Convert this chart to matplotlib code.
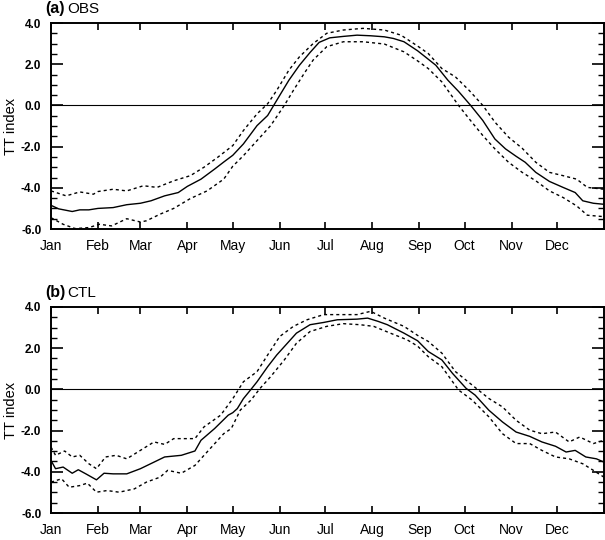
import matplotlib
matplotlib.use("Agg")
import matplotlib.pyplot as plt
from matplotlib.ticker import MultipleLocator

plt.rcParams["font.family"] = ["Liberation Sans", "DejaVu Sans"]

# ---- Data (day of year, TT index) ----
months = ["Jan", "Feb", "Mar", "Apr", "May", "Jun", "Jul", "Aug", "Sep", "Oct", "Nov", "Dec"]
month_start = [0, 31, 59, 90, 120, 151, 181, 212, 243, 273, 304, 334]

# (a) OBS
obs_mean_day = [0, 5, 14, 19, 25, 31, 41, 50, 59, 66, 75, 84, 90, 99, 108, 114, 120,
                127, 136, 143, 147, 151, 157, 164, 171, 177, 184, 193, 202, 211, 220,
                226, 233, 242, 247, 254, 262, 269, 277, 285, 293, 300, 307, 313, 320,
                329, 338, 346, 351, 358, 365]
obs_mean = [-4.85, -5.02, -5.15, -5.07, -5.07, -5.0, -4.96, -4.82, -4.75, -4.63, -4.39,
            -4.23, -3.93, -3.58, -3.09, -2.75, -2.42, -1.87, -0.98, -0.49, 0.0, 0.49,
            1.22, 1.95, 2.57, 3.06, 3.28, 3.35, 3.41, 3.38, 3.33, 3.25, 3.09, 2.65,
            2.36, 1.95, 1.22, 0.68, 0.0, -0.73, -1.63, -2.11, -2.47, -2.76, -3.25,
            -3.69, -3.98, -4.23, -4.63, -4.75, -4.8]

obs_hi_day = [0, 10, 19, 28, 31, 41, 50, 61, 70, 81, 92, 101, 110, 120, 127, 136, 143,
              149, 157, 164, 173, 182, 193, 206, 220, 231, 242, 249, 258, 267, 276,
              285, 293, 302, 311, 320, 329, 338, 347, 354, 365]
obs_hi = [-4.15, -4.39, -4.2, -4.31, -4.18, -4.07, -4.15, -3.9, -3.98, -3.66, -3.41,
          -3.0, -2.52, -1.95, -1.22, -0.41, 0.08, 0.73, 1.71, 2.36, 3.0, 3.5, 3.66,
          3.74, 3.66, 3.41, 2.88, 2.52, 1.79, 1.38, 0.73, 0.0, -0.81, -1.54, -2.08,
          -2.76, -3.25, -3.41, -3.58, -3.98, -4.07]

obs_lo_day = [0, 8, 16, 25, 32, 40, 50, 59, 63, 72, 81, 92, 103, 114, 120, 127, 136,
              145, 154, 160, 167, 173, 182, 193, 206, 220, 233, 242, 249, 258, 269,
              276, 285, 293, 302, 311, 320, 329, 338, 347, 354, 365]
obs_lo = [-5.45, -5.77, -5.98, -5.93, -5.77, -5.85, -5.5, -5.66, -5.6, -5.28, -5.0,
          -4.52, -4.15, -3.58, -2.95, -2.44, -1.71, -0.98, 0.0, 0.73, 1.54, 2.2, 2.85,
          3.09, 3.09, 2.98, 2.6, 2.16, 1.79, 1.14, 0.0, -0.65, -1.46, -2.11, -2.76,
          -3.25, -3.66, -4.15, -4.47, -4.88, -5.33, -5.4]

# (b) CTL
ctl_mean_day = [0, 3, 8, 14, 18, 23, 30, 35, 41, 50, 59, 68, 75, 86, 95, 99, 108, 117,
                120, 123, 127, 132, 136, 143, 149, 156, 162, 171, 180, 189, 202, 209,
                216, 222, 233, 242, 249, 258, 265, 274, 280, 289, 298, 307, 316, 324,
                333, 340, 346, 353, 360, 365]
ctl_mean = [-3.45, -3.85, -3.77, -4.07, -3.9, -4.1, -4.39, -4.07, -4.1, -4.1, -3.85,
            -3.53, -3.28, -3.2, -2.99, -2.47, -1.9, -1.25, -1.13, -0.93, -0.45, 0.0,
            0.37, 1.1, 1.67, 2.24, 2.73, 3.14, 3.25, 3.38, 3.41, 3.46, 3.3, 3.14, 2.73,
            2.36, 1.84, 1.43, 0.78, 0.05, -0.28, -1.01, -1.58, -2.07, -2.28, -2.55,
            -2.76, -3.04, -2.96, -3.28, -3.37, -3.53]

ctl_hi_day = [0, 3, 9, 14, 19, 25, 30, 36, 43, 50, 59, 68, 75, 81, 95, 101, 112, 120,
              127, 136, 143, 151, 160, 169, 180, 191, 202, 211, 220, 233, 242, 249,
              258, 267, 278, 289, 298, 307, 316, 324, 333, 342, 349, 358, 365]
ctl_hi = [-2.8, -3.2, -2.99, -3.28, -3.2, -3.61, -3.85, -3.28, -3.2, -3.37, -2.96,
          -2.55, -2.67, -2.39, -2.39, -1.82, -1.25, -0.45, 0.37, 0.86, 1.67, 2.57,
          3.06, 3.38, 3.63, 3.63, 3.63, 3.79, 3.46, 3.06, 2.62, 2.33, 1.76, 0.86,
          0.21, -0.44, -0.85, -1.5, -1.98, -2.15, -2.07, -2.55, -2.31, -2.63, -2.47]

ctl_lo_day = [0, 7, 12, 19, 24, 30, 37, 45, 55, 63, 72, 77, 86, 95, 103, 114, 119,
              125, 132, 138, 145, 154, 162, 171, 182, 193, 204, 213, 224, 235, 242,
              249, 258, 269, 278, 289, 298, 307, 316, 324, 333, 342, 351, 358, 365]
ctl_lo = [-4.5, -4.34, -4.75, -4.67, -4.55, -4.99, -4.91, -4.99, -4.83, -4.5, -4.26,
          -3.93, -4.07, -3.69, -3.04, -2.15, -1.9, -1.0, -0.52, 0.05, 0.62, 1.43,
          2.24, 2.81, 3.06, 3.19, 3.14, 3.06, 2.73, 2.41, 2.1, 1.59, 1.1, -0.03,
          -0.52, -1.33, -2.15, -2.63, -2.63, -2.96, -3.28, -3.37, -3.61, -3.93, -4.26]

panels = [
    ("(a)", "OBS", obs_mean_day, obs_mean, obs_hi_day, obs_hi, obs_lo_day, obs_lo),
    ("(b)", "CTL", ctl_mean_day, ctl_mean, ctl_hi_day, ctl_hi, ctl_lo_day, ctl_lo),
]

fig = plt.figure(figsize=(6.05, 5.40), dpi=100)
boxes = [[0.0843, 0.5759, 0.914, 0.3815], [0.0843, 0.0500, 0.914, 0.3815]]

for box, (tag, name, md, mv, hd, hv, ld, lv) in zip(boxes, panels):
    ax = fig.add_axes(box)
    ax.axhline(0, color="black", lw=0.8)
    ax.plot(md, mv, color="black", lw=1.0)
    ax.plot(hd, hv, color="black", lw=1.0, ls=(0, (2.2, 2.2)))
    ax.plot(ld, lv, color="black", lw=1.0, ls=(0, (2.2, 2.2)))

    ax.set_xlim(0, 365)
    ax.set_ylim(-6, 4)
    ax.set_xticks(month_start)
    ax.set_xticklabels(months, fontsize=10)
    ax.yaxis.set_minor_locator(MultipleLocator(0.5))
    ax.set_yticks([-6, -4, -2, 0, 2, 4])
    ax.set_yticklabels(["-6.0", "-4.0", "-2.0", "0.0", "2.0", "4.0"],
                       fontsize=8.5, fontweight="bold")
    ax.tick_params(axis="x", which="major", direction="in", top=True, bottom=True,
                   length=5, width=1.2, pad=7)
    ax.tick_params(axis="y", which="major", direction="in", left=True, right=True,
                   length=8.5, width=1.2, pad=7)
    ax.tick_params(axis="y", which="minor", direction="in", left=True, right=True,
                   length=4, width=1.0)
    for s in ax.spines.values():
        s.set_linewidth(1.4)
    ax.set_ylabel("TT index", fontsize=10.5, labelpad=2)

    ax.text(-0.011, 1.07, tag, transform=ax.transAxes, fontsize=11.5,
            fontweight="bold", ha="left", va="center")
    ax.text(0.029, 1.07, name, transform=ax.transAxes, fontsize=11,
            ha="left", va="center")

fig.savefig("out.png", dpi=100)
